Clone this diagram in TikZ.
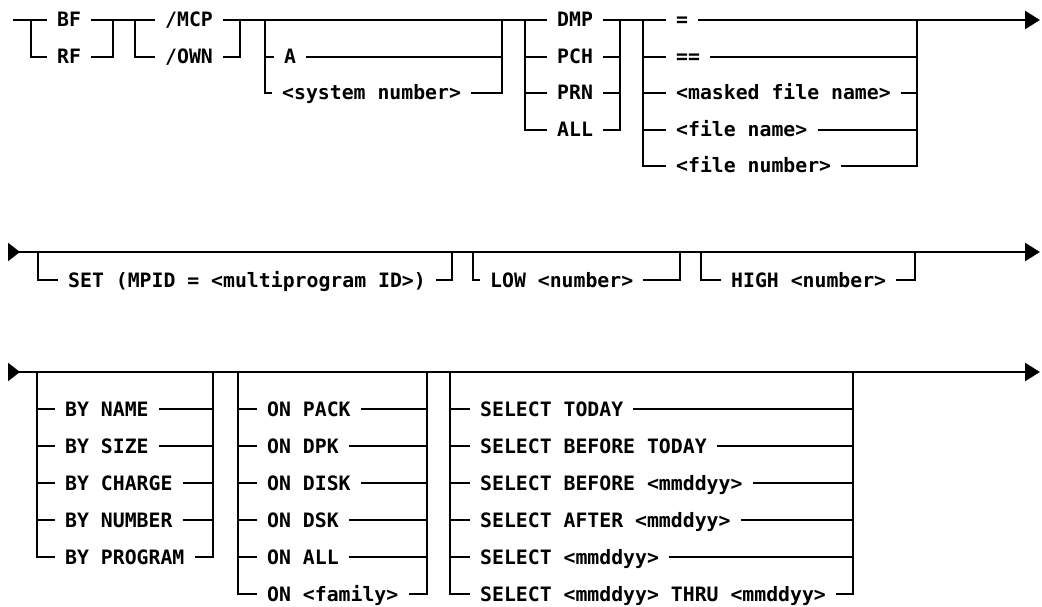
\documentclass[tikz,border=0pt]{standalone}
\usepackage{fontspec}
\newfontfamily\railfont{DejaVu Sans Mono}
\usetikzlibrary{arrows.meta}
\tikzset{
  rail/.style={line width=2.3pt},
  railend/.style={rail, -{Triangle[length=15pt,width=18pt]}},
  railstart/.style={rail, {Triangle[reversed,length=12pt,width=18pt]}-{Triangle[length=15pt,width=18pt]}},
  word/.style={font={\railfont\bfseries\fontsize{19.8}{20}\selectfont}, anchor=west,
    inner xsep=10pt, inner ysep=0pt, text height=14pt, text depth=0pt}
}

\begin{document}
\begin{tikzpicture}[x=1pt,y=-1pt]
\useasboundingbox (0,0) rectangle (1042,607);

% first line
\coordinate (in1) at (13,20);
\coordinate (bfL) at (31,20);
\coordinate (bfR) at (113,20);
\coordinate (mcpL) at (135,20);
\coordinate (mcpR) at (240,20);
\coordinate (sysL) at (265,20);
\coordinate (sysR) at (502,20);
\coordinate (dmpL) at (525,20);
\coordinate (dmpR) at (620,20);
\coordinate (eqL) at (643,20);
\coordinate (eqR) at (917,20);
\coordinate (out1) at (1040,20);

\node[word] (bf) at (47,20) {BF};
\node[word] (rf) at (47,57) {RF};
\node[word] (mcp) at (155,20) {/MCP};
\node[word] (own) at (155,57) {/OWN};
\node[word] (a) at (274,57) {A};
\node[word] (sys) at (272,93) {<system number>};
\node[word] (dmp) at (547,20) {DMP};
\node[word] (pch) at (547,57) {PCH};
\node[word] (prn) at (547,93) {PRN};
\node[word] (all) at (547,130) {ALL};
\node[word] (eq) at (666,20) {=};
\node[word] (eqeq) at (666,57) {==};
\node[word] (masked) at (666,93) {<masked file name>};
\node[word] (fname) at (666,130) {<file name>};
\node[word] (fnum) at (666,166) {<file number>};

\draw[rail] (in1) -- (bf) -- (mcp) -- (dmp) -- (eq);
\draw[railend] (eq) -- (out1);
\draw[rail] (bfL) |- (rf) -| (bfR);
\draw[rail] (mcpL) |- (own) -| (mcpR);
\draw[rail] (sysL) |- (a) -| (sysR);
\draw[rail] (sysL) |- (sys) -| (sysR);
\foreach \n in {pch,prn,all}
  \draw[rail] (dmpL) |- (\n) -| (dmpR);
\foreach \n in {eqeq,masked,fname,fnum}
  \draw[rail] (eqL) |- (\n) -| (eqR);

% second line
\coordinate (in2) at (8,252);
\coordinate (out2) at (1040,252);
\coordinate (setL) at (38,252);
\coordinate (setR) at (452,252);
\coordinate (lowL) at (473,252);
\coordinate (lowR) at (680,252);
\coordinate (highL) at (701,252);
\coordinate (highR) at (915,252);

\node[word] (set) at (58,280) {SET (MPID = <multiprogram ID>)};
\node[word] (low) at (480,280) {LOW <number>};
\node[word] (high) at (721,280) {HIGH <number>};

\draw[railstart] (in2) -- (out2);
\draw[rail] (setL) |- (set) -| (setR);
\draw[rail] (lowL) |- (low) -| (lowR);
\draw[rail] (highL) |- (high) -| (highR);

% third line
\coordinate (in3) at (8,372);
\coordinate (out3) at (1040,372);
\coordinate (byL) at (37,372);
\coordinate (byR) at (213,372);
\coordinate (onL) at (238,372);
\coordinate (onR) at (427,372);
\coordinate (selL) at (450,372);
\coordinate (selR) at (853,372);

\draw[railstart] (in3) -- (out3);
\foreach \txt [count=\i] in {BY NAME,BY SIZE,BY CHARGE,BY NUMBER,BY PROGRAM} {
  \node[word] (by\i) at (55,{372+37*\i}) {\txt};
  \draw[rail] (byL) |- (by\i) -| (byR);
}
\foreach \txt [count=\i] in {ON PACK,ON DPK,ON DISK,ON DSK,ON ALL,ON <family>} {
  \node[word] (on\i) at (257,{372+37*\i}) {\txt};
  \draw[rail] (onL) |- (on\i) -| (onR);
}
\foreach \txt [count=\i] in {SELECT TODAY,SELECT BEFORE TODAY,SELECT BEFORE <mmddyy>,
    SELECT AFTER <mmddyy>,SELECT <mmddyy>,SELECT <mmddyy> THRU <mmddyy>} {
  \node[word] (sel\i) at (470,{372+37*\i}) {\txt};
  \draw[rail] (selL) |- (sel\i) -| (selR);
}
\end{tikzpicture}
\end{document}
